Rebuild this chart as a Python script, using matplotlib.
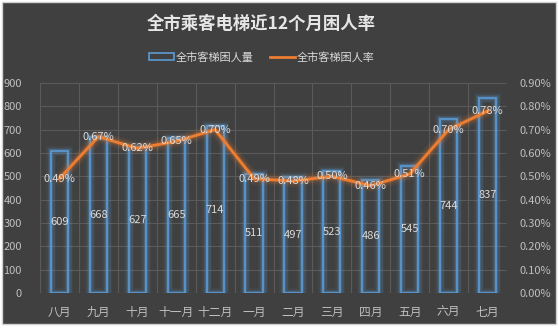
import matplotlib.pyplot as plt
import numpy as np
from matplotlib.patches import Rectangle
from matplotlib.lines import Line2D
from matplotlib.ticker import FuncFormatter, MultipleLocator

plt.rcParams["font.family"] = ["Noto Sans CJK SC", "DejaVu Sans"]

months = ["八月", "九月", "十月", "十一月", "十二月", "一月",
          "二月", "三月", "四月", "五月", "六月", "七月"]
trapped = [609, 668, 627, 665, 714, 511, 497, 523, 486, 545, 744, 837]
rate = [0.49, 0.67, 0.62, 0.65, 0.70, 0.49, 0.48, 0.50, 0.46, 0.51, 0.70, 0.78]

BG = "#404040"
BLUE = "#5b9bd5"
ORANGE = "#ed7d31"
GRID = "#5a5a5a"
TXT = "#bfbfbf"
LBL = "#d9d9d9"

fig = plt.figure(figsize=(5.59, 3.28), dpi=100, facecolor="white")
fig.patches.append(Rectangle((2 / 559, 4 / 328), 554 / 559, 322 / 328,
                             transform=fig.transFigure, facecolor=BG,
                             edgecolor="#d0d0d0", linewidth=1.0, zorder=-10))

ax = fig.add_axes([40 / 559, 35 / 328, 467 / 559, 210 / 328])
ax.set_facecolor("none")
x = np.arange(len(months))

# soft glow under the bar outlines
for lw, a in [(7, 0.08), (5, 0.14), (3, 0.25)]:
    ax.bar(x, trapped, width=0.44, facecolor="none", edgecolor=BLUE,
           linewidth=lw, alpha=a, zorder=2)
ax.bar(x, trapped, width=0.44, facecolor="none", edgecolor=BLUE,
       linewidth=1.2, zorder=3)
for xi, v in zip(x, trapped):
    ax.text(xi, v / 2, str(v), ha="center", va="center", color=LBL,
            fontsize=8, zorder=6)

ax.set_xlim(-0.5, len(months) - 0.5)
ax.set_ylim(0, 900)
ax.yaxis.set_major_locator(MultipleLocator(100))
ax.set_xticks(x)
ax.set_xticklabels(months)
ax.set_xticks(np.arange(-0.5, len(months), 1), minor=True)
ax.grid(True, which="minor", axis="x", color=GRID, linewidth=0.8)
ax.grid(True, which="major", axis="y", color=GRID, linewidth=0.8)
ax.set_axisbelow(True)
ax.tick_params(axis="x", which="both", length=0, pad=9, colors=TXT, labelsize=8.5)
ax.tick_params(axis="y", length=0, pad=13, colors=TXT, labelsize=8)
for s in ax.spines.values():
    s.set_visible(False)

ax2 = ax.twinx()
ax2.set_ylim(0, 0.9)
ax2.yaxis.set_major_locator(MultipleLocator(0.1))
ax2.yaxis.set_major_formatter(FuncFormatter(lambda v, _: f"{v:.2f}%"))
ax2.tick_params(axis="y", length=0, pad=9, colors=TXT, labelsize=8)
for s in ax2.spines.values():
    s.set_visible(False)

for lw, a in [(9, 0.07), (6, 0.13), (3.5, 0.25)]:
    ax2.plot(x, rate, color=ORANGE, linewidth=lw, alpha=a,
             solid_capstyle="round", zorder=4)
ax2.plot(x, rate, color=ORANGE, linewidth=2, zorder=5)
for xi, r in zip(x, rate):
    ax2.text(xi, r, f"{r:.2f}%", ha="center", va="center", color=LBL,
             fontsize=8, zorder=6)

fig.text(261 / 559, 1 - 24 / 328, "全市乘客电梯近12个月困人率", ha="center",
         va="center", color="#e6e6e6", fontsize=12.5, fontweight="bold")

handles = [
    Rectangle((0, 0), 1, 1, facecolor="none", edgecolor=BLUE, linewidth=1.2),
    Line2D([0], [0], color=ORANGE, linewidth=2),
]
fig.legend(handles, ["全市客梯困人量", "全市客梯困人率"], loc="center",
           bbox_to_anchor=(262 / 559, 1 - 57 / 328), ncol=2, frameon=False,
           fontsize=8, labelcolor=LBL, handlelength=2.2, handletextpad=0.2,
           columnspacing=1.5)

fig.savefig("out.png", dpi=100, facecolor=fig.get_facecolor())
